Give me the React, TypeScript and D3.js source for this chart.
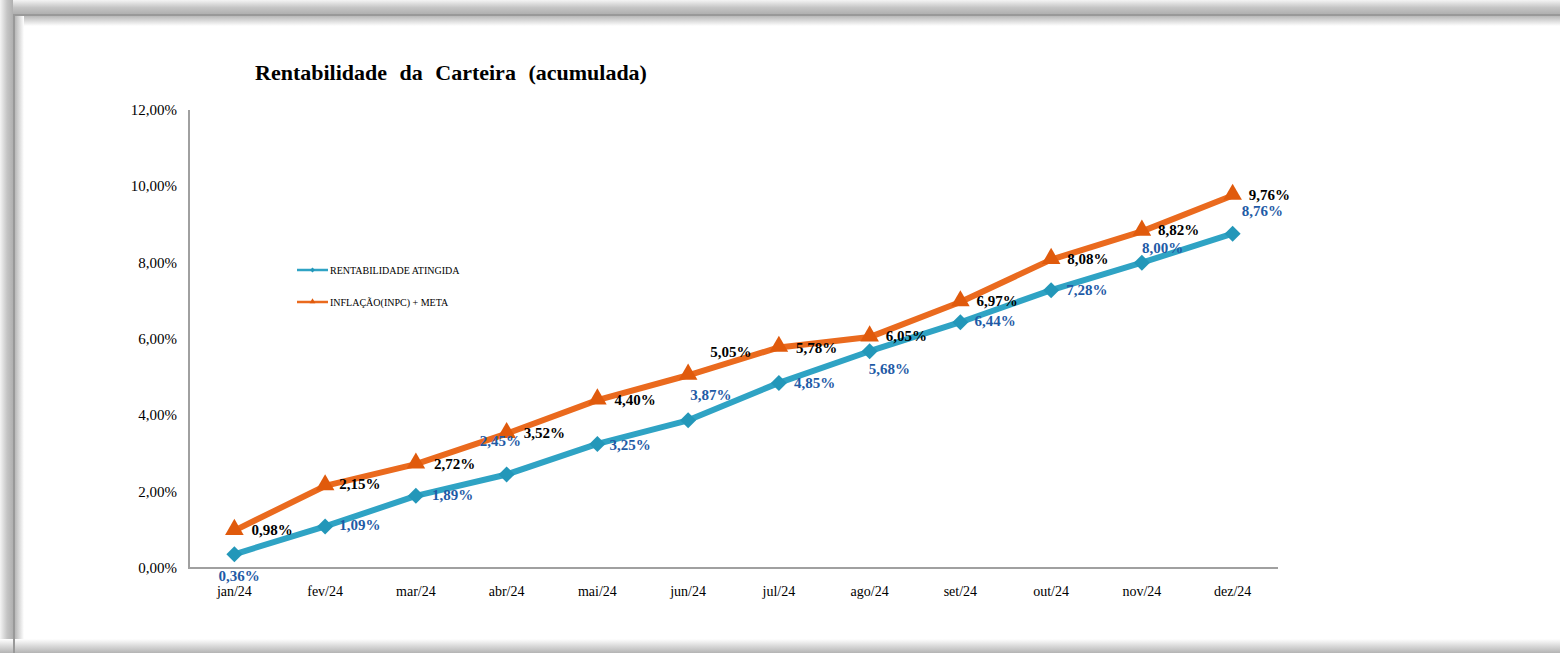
import React from "react";
import * as d3 from "d3";

const months = ["jan/24","fev/24","mar/24","abr/24","mai/24","jun/24","jul/24","ago/24","set/24","out/24","nov/24","dez/24"];
const rentabilidade = [0.36,1.09,1.89,2.45,3.25,3.87,4.85,5.68,6.44,7.28,8.00,8.76];
const inflacaoMeta = [0.98,2.15,2.72,3.52,4.40,5.05,5.78,6.05,6.97,8.08,8.82,9.76];
const yTicks = [0,2,4,6,8,10,12];
const seriesNames = ["RENTABILIDADE ATINGIDA","INFLAÇÃO(INPC) + META"];
const title = "Rentabilidade da Carteira (acumulada)";

// label placement (layout only)
const orangeLabelOffsets: [number, number][] = [[17,-1],[14,-2],[18,0],[17,-1],[17,0],[22,-23],[17,1],[16,-1],[16,-1],[16,-1],[16,-1],[16,0]];
const blueLabelOffsets: [number, number][] = [[-16,22],[14,-1],[16,-1],[-27,-33],[12,1],[2,-25],[15,0],[-1,18],[14,-1],[15,0],[0,-15],[9,-23]];

const W = 1560, H = 653;
const ORANGE = "#EA6A1E", ORANGE_M = "#E05A0C";
const BLUE = "#2FA3C4", BLUE_M = "#2397B9";
const BLUE_TXT = "#1F5BA6";
const FONT = "'Liberation Serif', 'Times New Roman', serif";

const fmt = (v: number) => v.toFixed(2).replace(".", ",") + "%";

export default function App() {
  const x = d3.scalePoint<string>().domain(months).range([189, 1278]).padding(0.5);
  const y = d3.scaleLinear().domain([0, 12]).range([568, 110]);
  const line = d3.line<number>().x((_, i) => x(months[i])!).y((d) => y(d));
  const tri = d3.symbol().type(d3.symbolTriangle).size(150)()!;
  const dia = (s: number) => `M0,${-s}L${s},0L0,${s}L${-s},0Z`;

  return (
    <div style={{ position: "absolute", left: 0, top: 0, width: W, height: H }}>
      <svg width={W} height={H} style={{ display: "block" }}>
        <defs>
          <linearGradient id="topg" x1="0" y1="0" x2="0" y2="1">
            <stop offset="0" stopColor="#f4f4f4" />
            <stop offset="0.55" stopColor="#c4c4c4" />
            <stop offset="1" stopColor="#b0b0b0" />
          </linearGradient>
          <linearGradient id="tops" x1="0" y1="0" x2="0" y2="1">
            <stop offset="0" stopColor="#b8b8b8" />
            <stop offset="1" stopColor="#ffffff" />
          </linearGradient>
          <linearGradient id="leftg" x1="0" y1="0" x2="1" y2="0">
            <stop offset="0" stopColor="#f4f4f4" />
            <stop offset="0.55" stopColor="#c4c4c4" />
            <stop offset="1" stopColor="#b0b0b0" />
          </linearGradient>
          <linearGradient id="lefts" x1="0" y1="0" x2="1" y2="0">
            <stop offset="0" stopColor="#b8b8b8" />
            <stop offset="1" stopColor="#ffffff" />
          </linearGradient>
          <linearGradient id="botg" x1="0" y1="0" x2="0" y2="1">
            <stop offset="0" stopColor="#ffffff" />
            <stop offset="1" stopColor="#b4b4b4" />
          </linearGradient>
        </defs>
        <rect width={W} height={H} fill="#fff" />
        {/* frame */}
        <rect x={0} y={0} width={W} height={14} fill="url(#topg)" />
        <rect x={0} y={0} width={13} height={H} fill="url(#leftg)" />
        <rect x={15} y={16} width={W} height={10} fill="url(#tops)" />
        <rect x={15} y={16} width={9} height={H} fill="url(#lefts)" />
        <rect x={15} y={16} width={9} height={10} fill="#fff" opacity={0} />
        <rect x={0} y={639} width={W} height={14} fill="url(#botg)" />
        <rect x={13} y={14} width={W} height={2} fill="#999" />
        <rect x={13} y={14} width={2} height={H} fill="#999" />

        {/* title */}
        <text x={255} y={80} fontFamily={FONT} fontWeight="bold" fontSize={22} wordSpacing={7} fill="#000">{title}</text>

        {/* axes */}
        <line x1={189} x2={189} y1={y(12)} y2={y(0)} stroke="#a0a0a0" strokeWidth={2} />
        <line x1={188} x2={1278} y1={y(0)} y2={y(0)} stroke="#a0a0a0" strokeWidth={2} />
        {yTicks.map((t) => (
          <text key={t} x={177} y={y(t) + 5} textAnchor="end" fontFamily={FONT} fontSize={15} fill="#000">{fmt(t)}</text>
        ))}
        {months.map((m) => (
          <text key={m} x={x(m)!} y={596} textAnchor="middle" fontFamily={FONT} fontSize={14} fill="#000">{m}</text>
        ))}

        {/* lines */}
        <path d={line(rentabilidade)!} fill="none" stroke={BLUE} strokeWidth={6} strokeLinejoin="round" />
        <path d={line(inflacaoMeta)!} fill="none" stroke={ORANGE} strokeWidth={6} strokeLinejoin="round" />
        {rentabilidade.map((v, i) => (
          <path key={"b" + i} d={dia(8)} transform={`translate(${x(months[i])},${y(v)})`} fill={BLUE_M} />
        ))}
        {inflacaoMeta.map((v, i) => (
          <path key={"o" + i} d={tri} transform={`translate(${x(months[i])},${y(v) - 1})`} fill={ORANGE_M} />
        ))}

        {/* labels */}
        {inflacaoMeta.map((v, i) => (
          <text key={"ol" + i} x={x(months[i])! + orangeLabelOffsets[i][0]} y={y(v) + orangeLabelOffsets[i][1] + 5}
            fontFamily={FONT} fontWeight="bold" fontSize={15} fill="#000">{fmt(v)}</text>
        ))}
        {rentabilidade.map((v, i) => (
          <text key={"bl" + i} x={x(months[i])! + blueLabelOffsets[i][0]} y={y(v) + blueLabelOffsets[i][1] + 5}
            fontFamily={FONT} fontWeight="bold" fontSize={15} fill={BLUE_TXT}>{fmt(v)}</text>
        ))}

        {/* legend */}
        {[BLUE, ORANGE].map((c, i) => {
          const ly = 270 + i * 32;
          return (
            <g key={"lg" + i}>
              <line x1={297} x2={328} y1={ly} y2={ly} stroke={c} strokeWidth={2.5} />
              {i === 0
                ? <path d={dia(2.5)} transform={`translate(312.5,${ly})`} fill={BLUE_M} />
                : <path d={d3.symbol().type(d3.symbolTriangle).size(14)()!} transform={`translate(312.5,${ly - 0.5})`} fill={ORANGE_M} />}
              <text x={330} y={ly + 3.5} fontFamily={FONT} fontSize={10} fill="#000">{seriesNames[i]}</text>
            </g>
          );
        })}
      </svg>
    </div>
  );
}
